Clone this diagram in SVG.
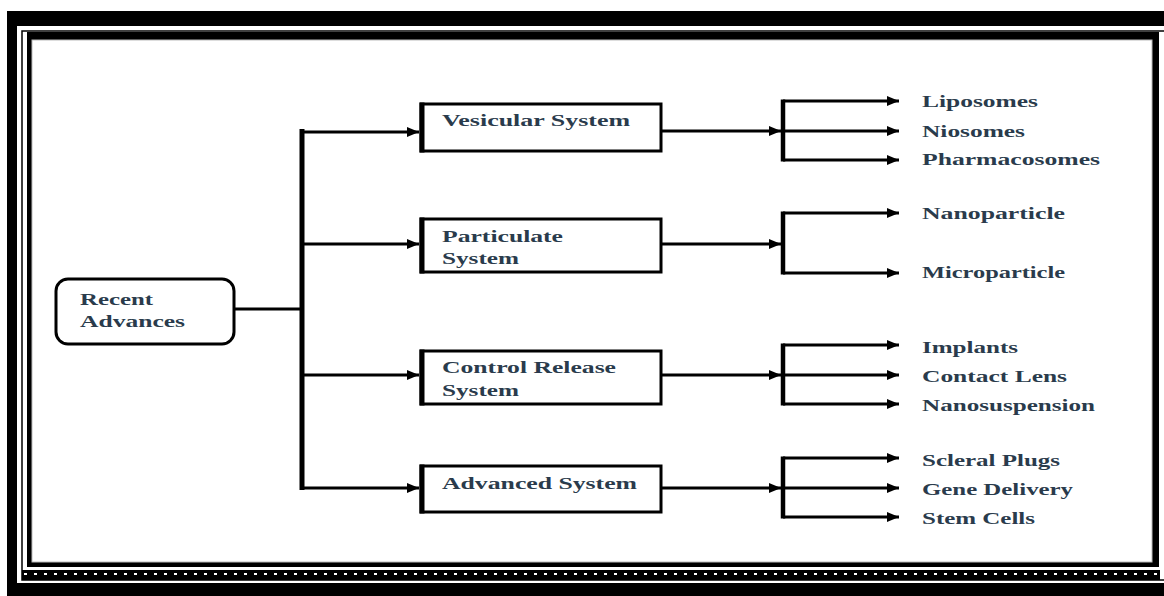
<svg xmlns="http://www.w3.org/2000/svg" width="1164" height="596" viewBox="0 0 1164 596">
<style>
.box{fill:#fff;stroke:#000;stroke-width:3}
.lb{stroke:#000;stroke-width:5}
.t{font-family:"Liberation Serif","Times New Roman",serif;font-weight:bold;fill:#2a3b4c}
.bt{font-size:17px}
.lt{font-size:16px}
.c{stroke:#000;stroke-width:3;fill:none}
.ca{stroke:#000;stroke-width:3;fill:none;marker-end:url(#ah)}
.br{stroke:#000;stroke-width:4.5;fill:none}
</style>
<defs>
<marker id="ah" markerUnits="userSpaceOnUse" markerWidth="12" markerHeight="10" refX="12" refY="5" orient="auto">
<path d="M0,0 L12,5 L0,10 z" fill="#000"/>
</marker>
</defs>
<g id="frame">
<rect x="7" y="11" width="1157" height="585" fill="#000"/>
<rect x="17" y="26" width="1147" height="557" fill="#fff"/>
<rect x="22" y="31" width="1150" height="549" fill="none" stroke="#000" stroke-width="1.5"/>
<rect x="27" y="32" width="1132" height="535" fill="#000"/>
<rect x="32" y="40" width="1120" height="522" fill="#fff" stroke="#bbb" stroke-width="1"/>
<rect x="22" y="570" width="1138" height="10" fill="#000"/>
<line x1="24" y1="574" x2="1160" y2="574" stroke="#fff" stroke-width="2" stroke-dasharray="3 7"/>
</g>
<g id="connectors">
<line class="c" x1="235" y1="309" x2="302" y2="309"/>
<line x1="302" y1="129" x2="302" y2="490" stroke="#000" stroke-width="5"/>
<line class="ca" x1="302" y1="132" x2="419" y2="132"/>
<line class="ca" x1="302" y1="244" x2="419" y2="244"/>
<line class="ca" x1="302" y1="375" x2="419" y2="375"/>
<line class="ca" x1="302" y1="488" x2="419" y2="488"/>
<line class="ca" x1="662" y1="131" x2="781" y2="131"/>
<line class="ca" x1="662" y1="244" x2="781" y2="244"/>
<line class="ca" x1="662" y1="375" x2="781" y2="375"/>
<line class="ca" x1="662" y1="488" x2="781" y2="488"/>
<line class="br" x1="783" y1="99.5" x2="783" y2="161.5"/>
<line class="br" x1="783" y1="211.5" x2="783" y2="274.5"/>
<line class="br" x1="783" y1="343.5" x2="783" y2="405.5"/>
<line class="br" x1="783" y1="456.5" x2="783" y2="518.5"/>
<line class="ca" x1="783" y1="101" x2="899" y2="101"/>
<line class="ca" x1="783" y1="131" x2="899" y2="131"/>
<line class="ca" x1="783" y1="160" x2="899" y2="160"/>
<line class="ca" x1="783" y1="213" x2="899" y2="213"/>
<line class="ca" x1="783" y1="273" x2="899" y2="273"/>
<line class="ca" x1="783" y1="345" x2="899" y2="345"/>
<line class="ca" x1="783" y1="375" x2="899" y2="375"/>
<line class="ca" x1="783" y1="404" x2="899" y2="404"/>
<line class="ca" x1="783" y1="458" x2="899" y2="458"/>
<line class="ca" x1="783" y1="488" x2="899" y2="488"/>
<line class="ca" x1="783" y1="517" x2="899" y2="517"/>
</g>
<g id="recent">
<rect class="box" x="56" y="279" width="178" height="65" rx="12"/>
<text class="t bt" x="80" y="305" textLength="73" lengthAdjust="spacingAndGlyphs">Recent</text>
<text class="t bt" x="80" y="327" textLength="105" lengthAdjust="spacingAndGlyphs">Advances</text>
</g>
<g id="vesicular">
<rect class="box" x="421" y="104" width="240" height="47"/>
<line class="lb" x1="422" y1="102.5" x2="422" y2="152.5"/>
<text class="t bt" x="442" y="126" textLength="188" lengthAdjust="spacingAndGlyphs">Vesicular System</text>
</g>
<g id="particulate">
<rect class="box" x="421" y="219" width="240" height="53"/>
<line class="lb" x1="422" y1="217.5" x2="422" y2="273.5"/>
<text class="t bt" x="442" y="242" textLength="121" lengthAdjust="spacingAndGlyphs">Particulate</text>
<text class="t bt" x="442" y="264" textLength="77" lengthAdjust="spacingAndGlyphs">System</text>
</g>
<g id="control">
<rect class="box" x="421" y="351" width="240" height="53"/>
<line class="lb" x1="422" y1="349.5" x2="422" y2="405.5"/>
<text class="t bt" x="442" y="373" textLength="174" lengthAdjust="spacingAndGlyphs">Control Release</text>
<text class="t bt" x="442" y="396" textLength="77" lengthAdjust="spacingAndGlyphs">System</text>
</g>
<g id="advanced">
<rect class="box" x="421" y="466" width="240" height="46"/>
<line class="lb" x1="422" y1="464.5" x2="422" y2="513.5"/>
<text class="t bt" x="442" y="489" textLength="195" lengthAdjust="spacingAndGlyphs">Advanced System</text>
</g>
<g id="leaves">
<text id="liposomes" class="t lt" x="922" y="107" textLength="116" lengthAdjust="spacingAndGlyphs">Liposomes</text>
<text id="niosomes" class="t lt" x="922" y="137" textLength="103" lengthAdjust="spacingAndGlyphs">Niosomes</text>
<text id="pharmacosomes" class="t lt" x="922" y="165" textLength="178" lengthAdjust="spacingAndGlyphs">Pharmacosomes</text>
<text id="nanoparticle" class="t lt" x="922" y="219" textLength="143" lengthAdjust="spacingAndGlyphs">Nanoparticle</text>
<text id="microparticle" class="t lt" x="922" y="278" textLength="143" lengthAdjust="spacingAndGlyphs">Microparticle</text>
<text id="implants" class="t lt" x="922" y="353" textLength="96" lengthAdjust="spacingAndGlyphs">Implants</text>
<text id="contactlens" class="t lt" x="922" y="382" textLength="145" lengthAdjust="spacingAndGlyphs">Contact Lens</text>
<text id="nanosuspension" class="t lt" x="922" y="411" textLength="173" lengthAdjust="spacingAndGlyphs">Nanosuspension</text>
<text id="scleral" class="t lt" x="922" y="466" textLength="138" lengthAdjust="spacingAndGlyphs">Scleral Plugs</text>
<text id="gene" class="t lt" x="922" y="495" textLength="151" lengthAdjust="spacingAndGlyphs">Gene Delivery</text>
<text id="stem" class="t lt" x="922" y="524" textLength="113" lengthAdjust="spacingAndGlyphs">Stem Cells</text>
</g>
</svg>
